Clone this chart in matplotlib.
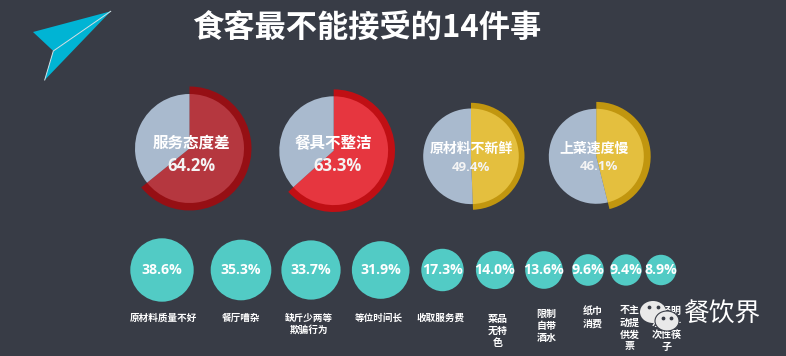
import numpy as np
import matplotlib
matplotlib.use('Agg')
import matplotlib.pyplot as plt
from matplotlib.patches import Polygon, Ellipse

plt.rcParams['font.family'] = ['Noto Sans CJK SC', 'DejaVu Sans']

W, H = 786, 356
BG = '#383C46'

title = '食客最不能接受的14件事'

# top pies
top_names = ['服务态度差', '餐具不整洁', '原材料不新鲜', '上菜速度慢']
top_values = [64.2, 63.3, 49.4, 46.1]

# bottom circles
low_names = ['原材料质量不好', '餐厅嘈杂', '缺斤少两等\n欺骗行为', '等位时间长', '收取服务费',
             '菜品\n无特\n色', '限制\n自带\n酒水', '纸巾\n消费', '不主\n动提\n供发\n票',
             '未经明\n示的一\n次性筷\n子']
low_values = [38.6, 35.3, 33.7, 31.9, 17.3, 14.0, 13.6, 9.6, 9.4, 8.9]

# layout, in pixels from top left
top_x = [189.5, 333.7, 471, 596.3]
top_y = [148.5, 150.7, 156.3, 156.3]
top_r_in = [54.5, 54.4, 47.8, 47.5]
top_r_out = [62, 61.3, 53.5, 54.4]
top_in_col = ['#B5373F', '#E6363F', '#E4BF3E', '#E4BF3E']
top_out_col = ['#960F14', '#C00F14', '#C1960F', '#C1960F']
top_name_xy = [(191, 143), (333.5, 143), (471.7, 149.3), (594, 149)]
top_val_xy = [(191, 166), (337, 166), (470.7, 167.7), (599, 166.7)]
top_name_fs = [11.2, 11.2, 10, 10]
top_val_fs = [12, 12, 9.5, 9.5]

low_x = [162, 241, 311, 380.7, 442.5, 495, 544, 588, 626, 661]
low_y = 270
name_x = [163, 240.7, 309, 378.7, 441, 497.7, 546.7, 593, 630, 667]
name_y = [318, 318, 324, 318, 318, 331, 326, 317.5, 328.5, 328.5]


def py(y):
    return H - y


fig = plt.figure(figsize=(W / 100, H / 100), dpi=100, facecolor=BG)
ax = fig.add_axes([0, 0, 1, 1])
ax.set_facecolor(BG)

for i, v in enumerate(top_values):
    c = (top_x[i], py(top_y[i]))
    # ring first, plain grey disc and the lighter slice go on top
    ax.pie([v, 100 - v], colors=[top_out_col[i], 'none'], startangle=90, counterclock=False,
           center=c, radius=top_r_out[i], frame=True)
    ax.pie([v, 100 - v], colors=[top_in_col[i], '#A9BACE'], startangle=90, counterclock=False,
           center=c, radius=top_r_in[i], frame=True)
    ax.text(top_name_xy[i][0], py(top_name_xy[i][1]), top_names[i], color='white', ha='center',
            va='center', fontsize=top_name_fs[i], fontweight='bold', zorder=5)
    ax.text(top_val_xy[i][0], py(top_val_xy[i][1]), '%.1f%%' % v, color='#F4F4F4', ha='center',
            va='center', fontsize=top_val_fs[i], fontweight='bold',
            family='Open Sans', zorder=5)

# circle area follows the value
ax.scatter(low_x, [py(low_y)] * len(low_x), s=np.array(low_values) * 54, color='#52CBC5',
           linewidths=0, zorder=3)

for i, v in enumerate(low_values):
    ax.text(low_x[i], py(low_y - 0.5), '%.1f%%' % v, color='white', ha='center', va='center',
            fontsize=10.2, family='Open Sans', fontweight='bold', zorder=5)
    ax.text(name_x[i], py(name_y[i]), low_names[i], color='white', ha='center', va='center',
            fontsize=6.9 if i < 5 else 7.2, fontweight='bold', linespacing=1.25, zorder=4)

# paper plane
ax.add_patch(Polygon([(33, py(32)), (110.7, py(11.3)), (53.3, py(51))], fc='#00B4D4', ec='none'))
ax.add_patch(Polygon([(53.3, py(51)), (110.7, py(11.3)), (44.7, py(80))], fc='#00B4D4', ec='none'))
ax.plot([110.7, 53.3, 44.7], [py(11.3), py(51), py(80)], color='#D5E3E8', lw=0.7)

# wechat watermark
ax.add_patch(Ellipse((653, py(312)), 26, 22, fc='#E9E9E9', ec='none', zorder=6))
ax.add_patch(Ellipse((667, py(321)), 24, 20, fc='#E9E9E9', ec=BG, lw=0.8, zorder=7))
ax.scatter([649, 658, 663, 671], [py(307), py(307), py(318), py(318)], s=3, color='#383C46', zorder=8)
ax.text(721.5, py(314), '餐饮界', color='white', ha='center', va='center', fontsize=18.5,
        fontweight='light', zorder=8)

ax.text(367, py(28), title, color='white', ha='center', va='center', fontsize=22.5, fontweight='bold')

ax.set_xlim(0, W)
ax.set_ylim(0, H)
ax.set_aspect('auto')
ax.axis('off')
fig.savefig('out.png', dpi=100, facecolor=BG)
